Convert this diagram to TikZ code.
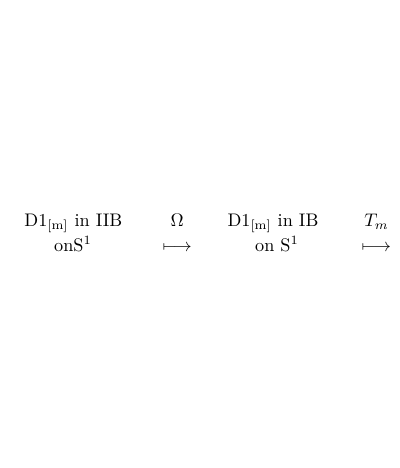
\documentclass[tikz,border=0pt]{standalone}
\usepackage{amsmath}
\begin{document}
\begin{tikzpicture}[x=0.5495pt,y=-0.5495pt, lbl/.style={inner sep=0pt,outer sep=0pt,anchor=base}]
\useasboundingbox (0,0) rectangle (400,468);
\node[lbl] (a1) at (73.4,226.3) {D1$_{[\mathrm{m}]}$ in IIB};
\node[lbl] (a2) at (73,251) {onS$^1$};
\node[lbl] (o) at (177.3,226.3) {$\Omega$};
\node[lbl] (m1) at (177.2,251) {$\longmapsto$};
\node[lbl] (b1) at (273,226.3) {D1$_{[\mathrm{m}]}$ in IB};
\node[lbl] (b2) at (277,251) {on S$^1$};
\node[lbl] (t) at (376.5,226.3) {$T_m$};
\node[lbl] (m2) at (376.3,251) {$\longmapsto$};
\end{tikzpicture}
\end{document}
